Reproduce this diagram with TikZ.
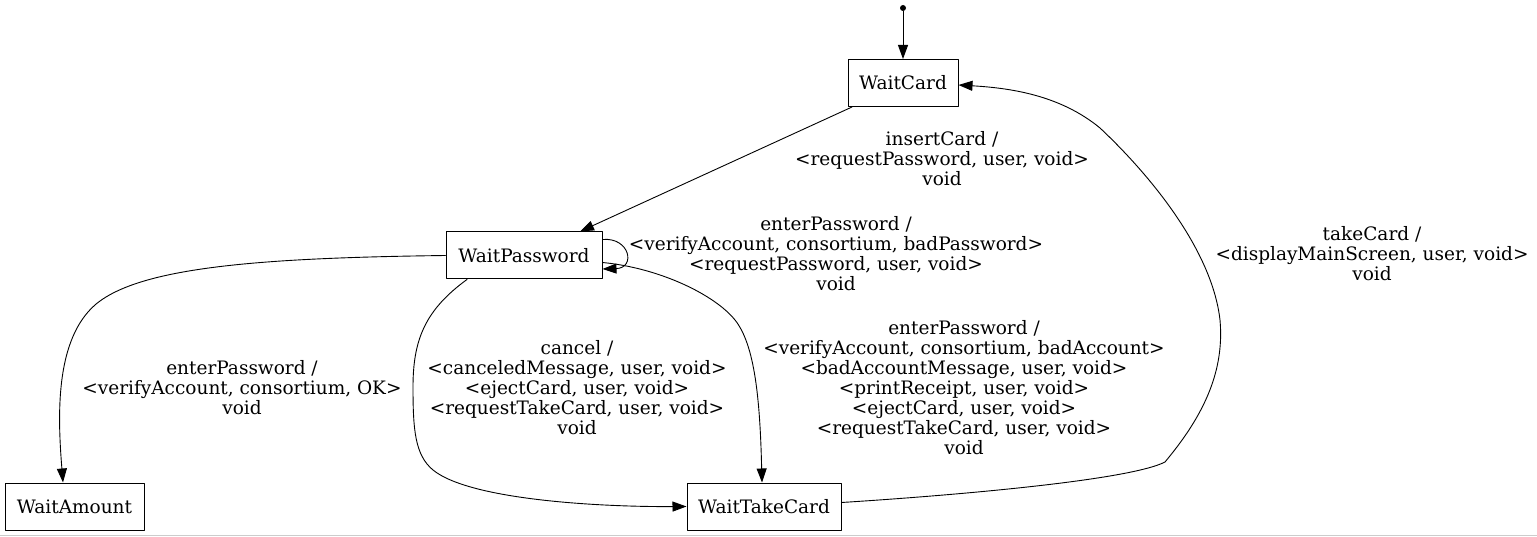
\documentclass[tikz,border=0pt]{standalone}
\usepackage{fontspec}
\setmainfont{DejaVu Serif}
\usepackage{tikz}
\usetikzlibrary{arrows.meta}
\tikzset{state/.style={draw,rectangle,line width=1pt,minimum height=47pt,inner sep=0pt},
lbl/.style={align=center,inner sep=0pt}}

\begin{document}
\begin{tikzpicture}[line cap=round,line join=round,>={Triangle[length=14pt,width=10pt]},x=1pt,y=-1pt,line width=0.9pt,font=\fontsize{18.5}{20}\selectfont]
\useasboundingbox (0,0) rectangle (1537,537);
\node[circle,fill,inner sep=0pt,minimum size=6pt] (start) at (903,8) {};
\node[state,minimum width=110pt] (wc) at (903,83) {WaitCard};
\node[state,minimum width=156pt] (wp) at (524,255.5) {WaitPassword};
\node[state,minimum width=139pt] (wa) at (74.5,506.5) {WaitAmount};
\node[state,minimum width=154pt] (wtc) at (764,506.5) {WaitTakeCard};
\draw[->] (start) -- (wc);
\draw[->] ([xshift=-51pt]wc.south) -- ([xshift=56pt]wp.north);
\draw[->] ([yshift=16pt]wp.east) .. controls (630,237) and (636,268) .. ([yshift=-13.5pt]wp.east);
\draw[->] (wp.west) .. controls (250,258) and (125,268) .. (88,312) .. controls (55,350) and (58,420) .. ([xshift=-11.5pt]wa.north);
\draw[->] ([xshift=-57pt]wp.south) .. controls (425,310) and (413,340) .. (413,387) .. controls (413,430) and (415,455) .. (433,470) .. controls (470,500) and (600,507) .. (wtc.west);
\draw[->] ([yshift=-7pt]wp.east) .. controls (660,268) and (715,295) .. (735,320) .. controls (755,345) and (760,400) .. ([xshift=-2pt]wtc.north);
\draw[->] ([yshift=4pt]wtc.east) .. controls (960,495) and (1130,480) .. (1165,462) .. controls (1200,420) and (1225,375) .. (1220,320) .. controls (1212,250) and (1150,175) .. (1100,128) .. controls (1060,95) and (1010,88) .. ([yshift=-2pt]wc.east);
\node[lbl] (l1) at (942,159) {insertCard /\\<requestPassword, user, void>\\void};
\node[lbl] (l2) at (836,254) {enterPassword /\\<verifyAccount, consortium, badPassword>\\<requestPassword, user, void>\\void};
\node[lbl] (l3) at (242,388) {enterPassword /\\<verifyAccount, consortium, OK>\\void};
\node[lbl] (l4) at (577,388) {cancel /\\<canceledMessage, user, void>\\<ejectCard, user, void>\\<requestTakeCard, user, void>\\void};
\node[lbl] (l5) at (964,388) {enterPassword /\\<verifyAccount, consortium, badAccount>\\<badAccountMessage, user, void>\\<printReceipt, user, void>\\<ejectCard, user, void>\\<requestTakeCard, user, void>\\void};
\node[lbl] (l6) at (1372,254) {takeCard /\\<displayMainScreen, user, void>\\void};
\draw[gray!40,line width=1pt] (0,535.5) -- (1537,535.5);
\end{tikzpicture}
\end{document}
